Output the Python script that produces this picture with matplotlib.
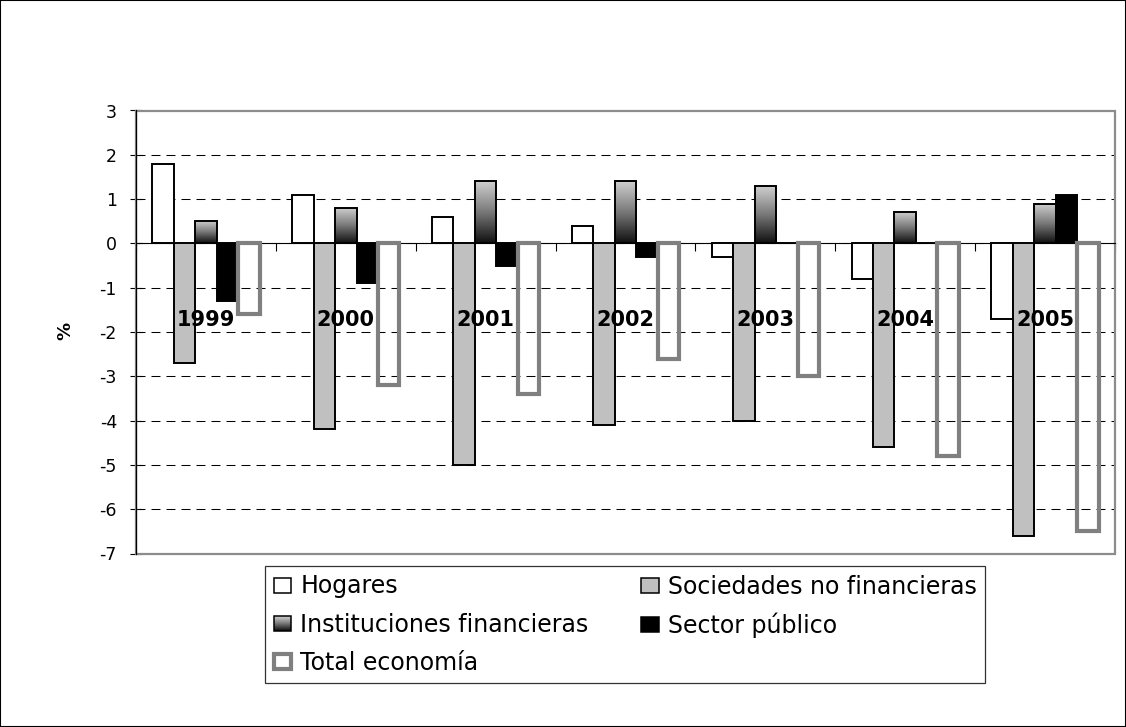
import numpy as np
import matplotlib
matplotlib.use("Agg")
import matplotlib.pyplot as plt
from matplotlib.colors import LinearSegmentedColormap
from matplotlib.patches import Rectangle, Patch
from matplotlib.legend_handler import HandlerBase

# ---- data (% of GDP) ----
years = ["1999", "2000", "2001", "2002", "2003", "2004", "2005"]
hogares = [1.8, 1.1, 0.6, 0.4, -0.3, -0.8, -1.7]
sociedades = [-2.7, -4.2, -5.0, -4.1, -4.0, -4.6, -6.6]
instituciones = [0.5, 0.8, 1.4, 1.4, 1.3, 0.7, 0.9]
sector_publico = [-1.3, -0.9, -0.5, -0.3, 0.0, 0.0, 1.1]
total = [-1.6, -3.2, -3.4, -2.6, -3.0, -4.8, -6.5]
series_names = ["Hogares", "Sociedades no financieras", "Instituciones financieras",
                "Sector público", "Total economía"]
y_ticks = list(range(-7, 4))

plt.rcParams["font.family"] = ["DejaVu Sans"]

W, H = 1126, 727
fig = plt.figure(figsize=(W / 100, H / 100), dpi=100)
ax = fig.add_axes([136 / W, 1 - 553.5 / H, (1115 - 136) / W, (553.5 - 110.5) / H])

grad_cmap = LinearSegmentedColormap.from_list("grey_grad", ["#101010", "#7a7a7a", "#d2d2d2"])

x = np.arange(len(years))
bw = 0.1536
edge_lw = 1.4

b_hog = ax.bar(x - 2 * bw, hogares, bw, facecolor="white", edgecolor="black",
               linewidth=edge_lw, zorder=3)
b_soc = ax.bar(x - bw, sociedades, bw, facecolor="#c0c0c0", edgecolor="black",
               linewidth=edge_lw, zorder=3)
b_inst = ax.bar(x, instituciones, bw, facecolor="none", edgecolor="black",
                linewidth=edge_lw, zorder=3)
b_sec = ax.bar(x + bw, sector_publico, bw, facecolor="black", edgecolor="black",
               linewidth=edge_lw, zorder=3)
b_tot = ax.bar(x + 2 * bw, total, bw, facecolor="none", edgecolor="#808080",
               linewidth=3.0, zorder=3.2)

# vertical gradient fill inside the financial-institutions bars
grad = np.linspace(0, 1, 256).reshape(-1, 1)
for rect in b_inst:
    rx, rw = rect.get_x(), rect.get_width()
    ry, rh = rect.get_y(), rect.get_height()
    lo, hi = min(ry, ry + rh), max(ry, ry + rh)
    if hi - lo <= 0:
        continue
    im = ax.imshow(grad, extent=[rx, rx + rw, lo, hi], origin="lower", aspect="auto",
                   cmap=grad_cmap, zorder=2.9, interpolation="bilinear")
    im.set_clip_path(rect)

ax.set_xlim(-0.5, len(years) - 0.5)
ax.set_ylim(min(y_ticks), max(y_ticks))

# year labels inside the plot
LABEL_Y = -1.74
for xi, yr in zip(x, years):
    ax.text(xi, LABEL_Y, yr, ha="center", va="center", fontsize=15,
            fontweight="bold", color="black", zorder=5)

# axes styling
ax.set_yticks(y_ticks)
ax.set_yticklabels([str(v) for v in y_ticks], fontsize=12.5)
ax.tick_params(axis="y", direction="inout", length=8.6, width=0.8, pad=9.4, colors="black")
ax.set_xticks(np.arange(len(years) + 1) - 0.5)
ax.tick_params(axis="x", direction="out", length=6, width=0.8, labelbottom=False, colors="black")
ax.spines["bottom"].set_position(("data", 0))
ax.spines["bottom"].set_color("black")
ax.spines["bottom"].set_linewidth(0.8)
ax.spines["bottom"].set_zorder(2)
ax.spines["left"].set_color("black")
ax.spines["left"].set_linewidth(0.9)
ax.spines["top"].set_visible(False)
ax.spines["right"].set_visible(False)

ax.set_axisbelow(True)
ax.grid(axis="y", color="black", linewidth=0.75, linestyle=(0, (8.6, 5.8)))
ax.grid(axis="x", visible=False)
ax.add_patch(Rectangle((0, 0), 1, 1, transform=ax.transAxes, fill=False,
                       edgecolor="#8c8c8c", linewidth=1.6, zorder=1.5, clip_on=False))

ax.set_ylabel("%", fontsize=13, fontweight="bold")
ax.yaxis.set_label_coords(-62 / (1115 - 136), (553.5 - 331) / (553.5 - 110.5))


class GradientHandler(HandlerBase):
    def create_artists(self, legend, orig_handle, xdescent, ydescent, width, height,
                       fontsize, trans):
        arts = []
        n = 30
        for i in range(n):
            r = Rectangle((-xdescent, -ydescent + i * height / n), width, height / n + 0.2,
                          facecolor=grad_cmap(i / (n - 1)), edgecolor="none", transform=trans)
            arts.append(r)
        arts.append(Rectangle((-xdescent, -ydescent), width, height, facecolor="none",
                              edgecolor="black", linewidth=1.1, transform=trans))
        return arts


h_hog = Patch(facecolor="white", edgecolor="black", linewidth=1.1)
h_soc = Patch(facecolor="#c0c0c0", edgecolor="black", linewidth=1.1)
h_inst = Patch(facecolor="#808080", edgecolor="black", linewidth=1.1)
h_sec = Patch(facecolor="black", edgecolor="black", linewidth=1.1)
h_tot = Patch(facecolor="white", edgecolor="#808080", linewidth=3.0)

handles = [h_hog, h_inst, h_tot, h_soc, h_sec]
labels = [series_names[0], series_names[2], series_names[4], series_names[1], series_names[3]]
leg = fig.legend(handles, labels, handler_map={h_inst: GradientHandler()},
                 loc="upper left", ncol=2, mode="expand",
                 bbox_to_anchor=(265 / W, 1 - 566 / H, 720 / W, 0.0),
                 bbox_transform=fig.transFigure, borderaxespad=0,
                 fontsize=17, frameon=True, fancybox=False, shadow=False,
                 handlelength=0.76, handleheight=0.6, handletextpad=0.38,
                 labelspacing=0.6, borderpad=0.36)
leg.get_frame().set_edgecolor("black")
leg.get_frame().set_linewidth(0.9)

# outer border of the figure
fig.add_artist(Rectangle((0, 0), 1, 1, transform=fig.transFigure, fill=False,
                         edgecolor="black", linewidth=1.5))

fig.savefig("out.png", dpi=100)
